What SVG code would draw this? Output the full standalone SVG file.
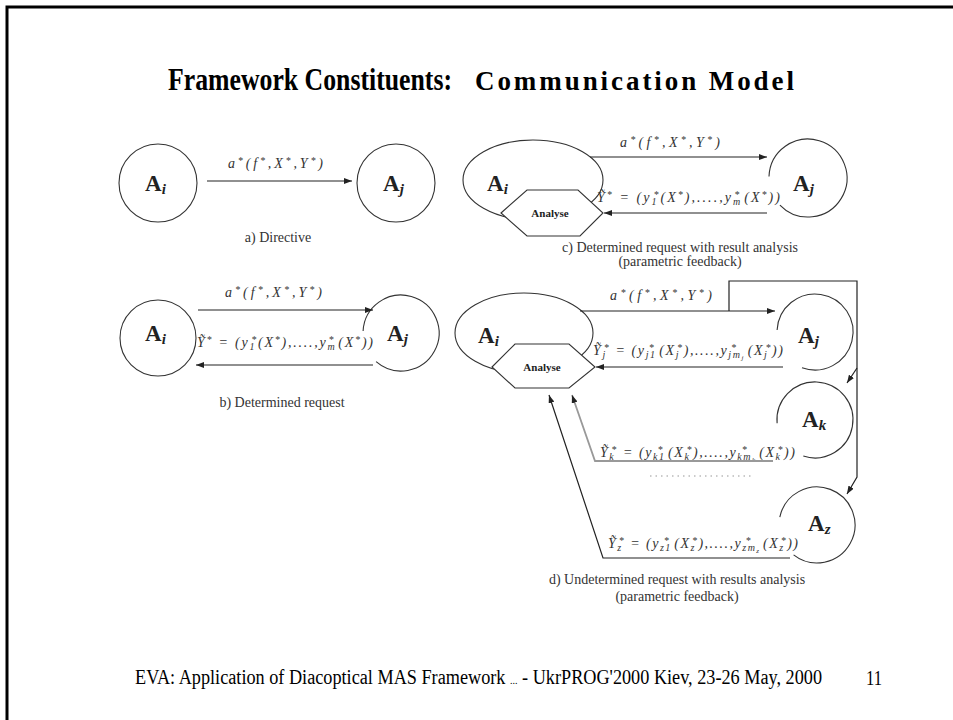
<svg xmlns="http://www.w3.org/2000/svg" width="953" height="720" viewBox="0 0 953 720">
<style>
  .frame{fill:none;stroke:#000;stroke-width:3}
  .title{font-family:"Liberation Serif","Times New Roman",serif;font-weight:bold;fill:#000}
  .foot{font-family:"Liberation Serif","Times New Roman",serif;font-size:20px;fill:#000}
  .shape{fill:none;stroke:#333;stroke-width:1.1}
  .hex{fill:#fff;stroke:#333;stroke-width:1.1}
  .link{fill:none;stroke:#222;stroke-width:1.2;marker-end:url(#arrow)}
  .soft{fill:none;stroke:#999;stroke-width:1.8;marker-end:url(#arrow)}
  .dots{fill:none;stroke:#bbb;stroke-width:1.5;stroke-dasharray:1.5 4}
  .lbl{font-family:"Liberation Serif","Times New Roman",serif;font-weight:bold;font-size:23px;fill:#222}
  .lbl tspan{font-style:italic;font-size:15px}
  .eq{font-family:"Liberation Serif","Times New Roman",serif;font-style:italic;font-size:14px;fill:#333}
  .s{font-size:10px}
  .ss{font-size:7px}
  .cap{font-family:"Liberation Serif","Times New Roman",serif;font-size:14px;fill:#333;text-anchor:middle}
  .an{font-family:"Liberation Serif","Times New Roman",serif;font-weight:bold;font-size:11px;fill:#222;text-anchor:middle}
</style>
<defs>
  <marker id="arrow" viewBox="0 0 8 6" refX="8" refY="3" markerWidth="8" markerHeight="6" markerUnits="userSpaceOnUse" orient="auto">
    <path d="M0,0 L8,3 L0,6 z" fill="#222"/>
  </marker>
</defs>

<rect width="953" height="720" fill="#fff"/>
<path class="frame" d="M7,720 V7 H953"/>

<!-- heading -->
<text class="title" x="168" y="90" font-size="32" textLength="284" lengthAdjust="spacingAndGlyphs">Framework Constituents:</text>
<text class="title" x="475" y="90" font-size="27" textLength="319" lengthAdjust="spacing">Communication Model</text>

<!-- a) directive -->
<g id="a-Ai">
  <circle class="shape" cx="158" cy="183" r="39"/>
  <text class="lbl" x="145" y="191">A<tspan dy="3">i</tspan></text>
</g>
<g id="a-Aj">
  <circle class="shape" cx="396" cy="183" r="39"/>
  <text class="lbl" x="383" y="191">A<tspan dy="3">j</tspan></text>
</g>
<text class="eq" x="228" y="168" font-size="15" textLength="95">a<tspan class="s" dy="-4">*</tspan><tspan dy="4">(f</tspan><tspan class="s" dy="-4">*</tspan><tspan dy="4">,X</tspan><tspan class="s" dy="-4">*</tspan><tspan dy="4">,Y</tspan><tspan class="s" dy="-4">*</tspan><tspan dy="4">)</tspan></text>
<text class="cap" x="278" y="242">a) Directive</text>

<!-- b) determined request -->
<g id="b-Ai">
  <circle class="shape" cx="158" cy="338" r="38"/>
  <text class="lbl" x="145" y="341">A<tspan dy="3">i</tspan></text>
</g>
<g id="b-Aj">
  <path class="shape" d="M363.1,331 A38,38 0 1 1 376.1,361.7"/>
  <text class="lbl" x="387" y="341">A<tspan dy="3">j</tspan></text>
</g>
<text class="eq" x="225" y="297" font-size="15" textLength="97">a<tspan class="s" dy="-4">*</tspan><tspan dy="4">(f</tspan><tspan class="s" dy="-4">*</tspan><tspan dy="4">,X</tspan><tspan class="s" dy="-4">*</tspan><tspan dy="4">,Y</tspan><tspan class="s" dy="-4">*</tspan><tspan dy="4">)</tspan></text>
<text class="eq" x="197" y="347" textLength="176">Ỹ<tspan class="s" dy="-4">*</tspan><tspan dy="4"> = (y</tspan><tspan class="s" dy="3">1</tspan><tspan class="s" dx="-5" dy="-7">*</tspan><tspan dy="4">(X</tspan><tspan class="s" dy="-4">*</tspan><tspan dy="4">),....,y</tspan><tspan class="s" dy="3">m</tspan><tspan class="s" dx="-8" dy="-7">*</tspan><tspan dx="3" dy="4">(X</tspan><tspan class="s" dy="-4">*</tspan><tspan dy="4">))</tspan></text>
<text class="cap" x="282" y="407">b) Determined request</text>

<!-- c) determined request with result analysis -->
<g id="c-Ai">
  <ellipse class="shape" cx="533" cy="180" rx="70" ry="40"/>
  <text class="lbl" x="487" y="191">A<tspan dy="3">i</tspan></text>
</g>
<g id="c-analyse">
  <polygon class="hex" points="501,213 527,190 578,190 603,213 580,236 527,236"/>
  <text class="an" x="550" y="217">Analyse</text>
</g>
<g id="c-Aj">
  <path class="shape" d="M769,176.6 A39,39 0 1 1 779.9,205.1"/>
  <text class="lbl" x="793" y="191">A<tspan dy="3">j</tspan></text>
</g>
<text class="eq" x="620" y="147" font-size="15" textLength="100">a<tspan class="s" dy="-4">*</tspan><tspan dy="4">(f</tspan><tspan class="s" dy="-4">*</tspan><tspan dy="4">,X</tspan><tspan class="s" dy="-4">*</tspan><tspan dy="4">,Y</tspan><tspan class="s" dy="-4">*</tspan><tspan dy="4">)</tspan></text>
<text class="eq" x="597" y="202" textLength="183">Ỹ<tspan class="s" dy="-4">*</tspan><tspan dy="4"> = (y</tspan><tspan class="s" dy="3">1</tspan><tspan class="s" dx="-5" dy="-7">*</tspan><tspan dy="4">(X</tspan><tspan class="s" dy="-4">*</tspan><tspan dy="4">),....,y</tspan><tspan class="s" dy="3">m</tspan><tspan class="s" dx="-8" dy="-7">*</tspan><tspan dx="3" dy="4">(X</tspan><tspan class="s" dy="-4">*</tspan><tspan dy="4">))</tspan></text>
<text class="cap" x="680" y="252">c) Determined request with result analysis</text>
<text class="cap" x="680" y="266">(parametric feedback)</text>

<!-- d) undetermined request with results analysis -->
<g id="d-Ai">
  <ellipse class="shape" cx="524" cy="333" rx="69" ry="40"/>
  <text class="lbl" x="478" y="343">A<tspan dy="3">i</tspan></text>
</g>
<g id="d-analyse">
  <polygon class="hex" points="492,367 515,344 569,344 595,367 569,388 515,388"/>
  <text class="an" x="542" y="371">Analyse</text>
</g>
<g id="d-Aj">
  <path class="shape" d="M777.1,330 A38,38 0 1 1 802,367.7"/>
  <text class="lbl" x="798" y="343">A<tspan dy="3">j</tspan></text>
</g>
<g id="d-Ak">
  <path class="shape" d="M777.1,423.3 A38,38 0 1 1 803.3,456.1"/>
  <text class="lbl" x="802" y="427">A<tspan dy="3">k</tspan></text>
</g>
<g id="d-Az">
  <path class="shape" d="M779.8,517.1 A38,38 0 1 1 793.6,554.9"/>
  <text class="lbl" x="808" y="531">A<tspan dy="3">z</tspan></text>
</g>
<text class="eq" x="610" y="300" font-size="15" textLength="102">a<tspan class="s" dy="-4">*</tspan><tspan dy="4">(f</tspan><tspan class="s" dy="-4">*</tspan><tspan dy="4">,X</tspan><tspan class="s" dy="-4">*</tspan><tspan dy="4">,Y</tspan><tspan class="s" dy="-4">*</tspan><tspan dy="4">)</tspan></text>
<text class="eq" x="593" y="355" textLength="190">Ỹ<tspan class="s" dy="3">j</tspan><tspan class="s" dx="-3" dy="-7">*</tspan><tspan dy="4"> = (y</tspan><tspan class="s" dy="3">j1</tspan><tspan class="s" dx="-8" dy="-7">*</tspan><tspan dx="4" dy="4">(X</tspan><tspan class="s" dy="3">j</tspan><tspan class="s" dx="-3" dy="-7">*</tspan><tspan dy="4">),....,y</tspan><tspan class="s" dy="3">jm</tspan><tspan class="ss" dy="2">j</tspan><tspan class="s" dx="-14" dy="-9">*</tspan><tspan dx="10" dy="4">(X</tspan><tspan class="s" dy="3">j</tspan><tspan class="s" dx="-3" dy="-7">*</tspan><tspan dy="4">))</tspan></text>
<text class="eq" x="600" y="457" textLength="195">Ỹ<tspan class="s" dy="3">k</tspan><tspan class="s" dx="-4" dy="-7">*</tspan><tspan dy="4"> = (y</tspan><tspan class="s" dy="3">k1</tspan><tspan class="s" dx="-8" dy="-7">*</tspan><tspan dx="4" dy="4">(X</tspan><tspan class="s" dy="3">k</tspan><tspan class="s" dx="-4" dy="-7">*</tspan><tspan dy="4">),....,y</tspan><tspan class="s" dy="3">km</tspan><tspan class="ss" dy="2">k</tspan><tspan class="s" dx="-15" dy="-9">*</tspan><tspan dx="11" dy="4">(X</tspan><tspan class="s" dy="3">k</tspan><tspan class="s" dx="-4" dy="-7">*</tspan><tspan dy="4">))</tspan></text>
<text class="eq" x="608" y="548" textLength="190">Ỹ<tspan class="s" dy="3">z</tspan><tspan class="s" dx="-4" dy="-7">*</tspan><tspan dy="4"> = (y</tspan><tspan class="s" dy="3">z1</tspan><tspan class="s" dx="-8" dy="-7">*</tspan><tspan dx="4" dy="4">(X</tspan><tspan class="s" dy="3">z</tspan><tspan class="s" dx="-4" dy="-7">*</tspan><tspan dy="4">),....,y</tspan><tspan class="s" dy="3">zm</tspan><tspan class="ss" dy="2">z</tspan><tspan class="s" dx="-15" dy="-9">*</tspan><tspan dx="11" dy="4">(X</tspan><tspan class="s" dy="3">z</tspan><tspan class="s" dx="-4" dy="-7">*</tspan><tspan dy="4">))</tspan></text>
<text class="cap" x="677" y="584">d) Undetermined request with results analysis</text>
<text class="cap" x="677" y="601">(parametric feedback)</text>

<!-- connectors -->
<g id="connectors">
  <path class="link" d="M207,181 H352"/>
  <path class="link" d="M198,310 H373"/>
  <path class="link" d="M373,365 H196"/>
  <path class="link" d="M590,157 H767"/>
  <path class="link" d="M767,213 H604"/>
  <path class="link" d="M580,311 H775"/>
  <path class="link" d="M783,367 H596"/>
  <path class="link" d="M729,311 V281 H857 V477 L847,494"/>
  <path class="link" d="M857,368 L847,383"/>
  <path class="soft" d="M773,461 H595 L572,395"/>
  <path class="link" d="M790,558 H603 L549,395"/>
  <path class="dots" d="M650,476 H753"/>
</g>

<!-- footer -->
<text class="foot" x="135" y="684" textLength="687" lengthAdjust="spacingAndGlyphs">EVA: Application of Diacoptical MAS Framework <tspan font-size="11">...</tspan> - UkrPROG'2000 Kiev, 23-26 May, 2000</text>
<text class="foot" x="866" y="685" font-size="19" textLength="16" lengthAdjust="spacingAndGlyphs">11</text>
</svg>
